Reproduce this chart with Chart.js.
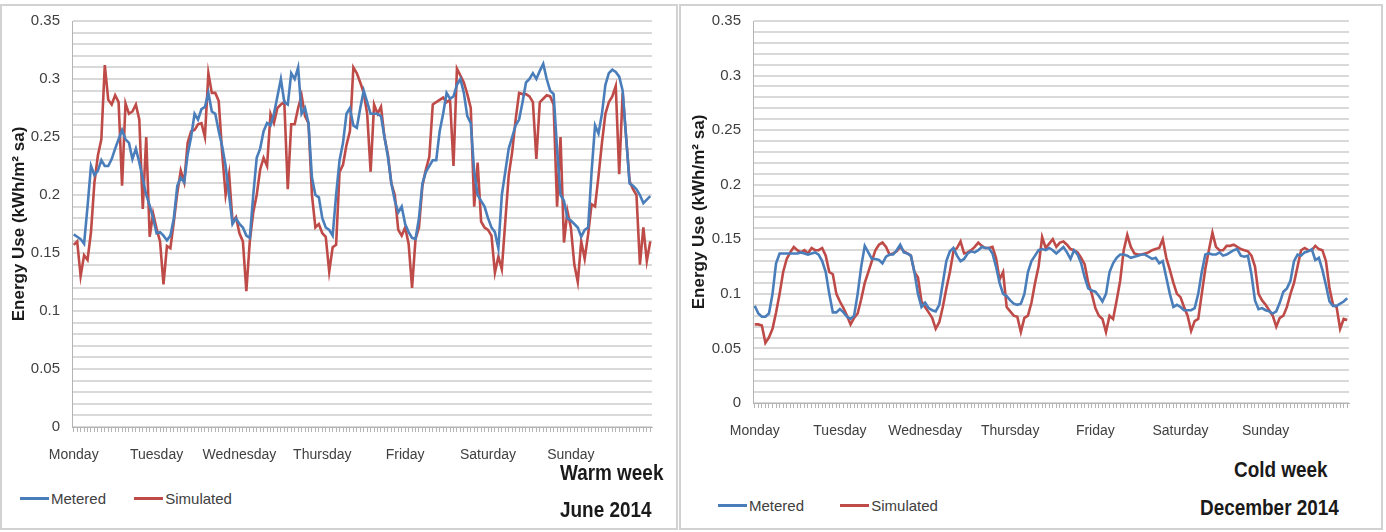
<!DOCTYPE html>
<html lang="en">
<head>
<meta charset="UTF-8" />
<title>Energy use - warm and cold week</title>
<script src="https://cdn.jsdelivr.net/npm/chart.js@4.4.1/dist/chart.umd.min.js"></script>
<style>
  body { margin: 0; width: 1386px; height: 532px; background: #fff; position: relative; overflow: hidden;
         font-family: "Liberation Sans", sans-serif; color: #404040; }
  .panel { position: absolute; top: 4px; height: 526px; border: 2px solid #d2d2d2; box-sizing: border-box; }
  canvas { position: absolute; top: 0; }
  .legend { position: absolute; font-size: 15px; white-space: nowrap; }
  .legend span { display: inline-block; vertical-align: middle; }
  .legend .key { width: 29px; height: 3px; margin-right: 2px; }
  .legend .item { margin-right: 24px; }
  .note { position: absolute; font-size: 22px; font-weight: bold; color: #1a1a1a; white-space: nowrap;
          line-height: 26px; transform: scaleX(0.86); transform-origin: left center; }
</style>
</head>
<body>
  <div class="panel" style="left:0; width:678px;"></div>
  <div class="panel" style="left:679px; width:704px;"></div>

  <canvas id="warm" width="676" height="470" style="left:0"></canvas>
  <canvas id="cold" width="701" height="450" style="left:680px"></canvas>

  <div class="legend" style="left:20px; top:488px;">
    <span class="key" style="background:#4a7ebb"></span><span class="item">Metered</span>
    <span class="key" style="background:#be4b48"></span><span>Simulated</span>
  </div>
  <div class="legend" style="left:718px; top:495px;">
    <span class="key" style="background:#4a7ebb"></span><span class="item" style="margin-right:32px">Metered</span>
    <span class="key" style="background:#be4b48"></span><span>Simulated</span>
  </div>

  <div class="note" style="left:560px; top:460px;">Warm week</div>
  <div class="note" style="left:560px; top:497px;">June 2014</div>
  <div class="note" style="left:1234px; top:457px;">Cold week</div>
  <div class="note" style="left:1200px; top:495px;">December 2014</div>

<script>
  // one reading per hour, Monday 00h .. Sunday 23h
  const days = ["Monday", "Tuesday", "Wednesday", "Thursday", "Friday", "Saturday", "Sunday"];
  const hoursPerDay = 24;

  const warmMetered = [
    0.166, 0.164, 0.162, 0.158, 0.19, 0.225, 0.217, 0.221, 0.23, 0.225, 0.225, 0.231,
    0.24, 0.248, 0.256, 0.248, 0.245, 0.231, 0.24, 0.228, 0.214, 0.2, 0.191, 0.18,
    0.167, 0.168, 0.165, 0.161, 0.165, 0.18, 0.208, 0.215, 0.211, 0.235, 0.25, 0.27,
    0.265, 0.274, 0.276, 0.288, 0.272, 0.27, 0.255, 0.242, 0.225, 0.2, 0.175, 0.18,
    0.175, 0.172, 0.165, 0.163, 0.2, 0.232, 0.24, 0.255, 0.262, 0.26, 0.27, 0.285,
    0.3, 0.28, 0.278, 0.305, 0.3, 0.31, 0.27, 0.275, 0.262, 0.215, 0.2, 0.198,
    0.18, 0.172, 0.17, 0.165, 0.2, 0.23, 0.245, 0.27, 0.275, 0.26, 0.258, 0.275,
    0.29, 0.28, 0.27, 0.27, 0.27, 0.268, 0.25, 0.233, 0.21, 0.195, 0.185, 0.19,
    0.175, 0.168, 0.163, 0.162, 0.18, 0.21, 0.22, 0.225, 0.23, 0.23, 0.255, 0.27,
    0.288, 0.283, 0.285, 0.295, 0.3, 0.288, 0.268, 0.262, 0.22, 0.2, 0.195, 0.19,
    0.18, 0.172, 0.168, 0.154, 0.2, 0.22, 0.24, 0.25, 0.26, 0.265, 0.28, 0.297,
    0.3, 0.305, 0.3, 0.307, 0.313, 0.3, 0.29, 0.287, 0.24, 0.2, 0.195, 0.18,
    0.178, 0.175, 0.172, 0.164, 0.17, 0.172, 0.22, 0.26, 0.253, 0.27, 0.295, 0.305,
    0.308, 0.306, 0.302, 0.29, 0.25, 0.21, 0.208, 0.205, 0.2, 0.193, 0.196, 0.199
  ];
  const warmSimulated = [
    0.157, 0.16, 0.13, 0.148, 0.144, 0.168, 0.211, 0.234, 0.248, 0.312, 0.282, 0.278,
    0.286, 0.28, 0.208, 0.279, 0.27, 0.272, 0.278, 0.265, 0.188, 0.25, 0.164, 0.184,
    0.171, 0.16, 0.123, 0.156, 0.154, 0.177, 0.202, 0.221, 0.211, 0.245, 0.255, 0.256,
    0.261, 0.262, 0.25, 0.305, 0.288, 0.288, 0.281, 0.236, 0.2, 0.218, 0.177, 0.181,
    0.167, 0.16, 0.117, 0.16, 0.185, 0.2, 0.222, 0.232, 0.225, 0.27, 0.262, 0.275,
    0.278, 0.28, 0.205, 0.261, 0.261, 0.275, 0.286, 0.268, 0.262, 0.2, 0.172, 0.175,
    0.167, 0.164, 0.134, 0.155, 0.157, 0.22, 0.226, 0.243, 0.255, 0.31, 0.305, 0.297,
    0.288, 0.27, 0.22, 0.278, 0.27, 0.276, 0.25, 0.235, 0.21, 0.2, 0.17, 0.165,
    0.172, 0.158, 0.12, 0.162, 0.172, 0.208, 0.222, 0.233, 0.278, 0.28, 0.282, 0.284,
    0.28, 0.282, 0.225, 0.309, 0.303, 0.297, 0.287, 0.275, 0.19, 0.228, 0.177, 0.172,
    0.17, 0.165, 0.133, 0.147, 0.136, 0.177, 0.217, 0.237, 0.265, 0.288, 0.287, 0.287,
    0.285, 0.28, 0.231, 0.28, 0.283, 0.286, 0.285, 0.278, 0.19, 0.25, 0.159, 0.186,
    0.172, 0.14, 0.125, 0.16, 0.145, 0.166, 0.192, 0.19, 0.216, 0.245, 0.27, 0.28,
    0.285, 0.294, 0.218, 0.288, 0.25, 0.212, 0.205, 0.2, 0.14, 0.172, 0.143, 0.16
  ];
  const coldMetered = [
    0.089, 0.082, 0.079, 0.079, 0.082, 0.1, 0.128, 0.137, 0.137, 0.137, 0.137, 0.137,
    0.137, 0.138, 0.137, 0.136, 0.137, 0.138, 0.136, 0.13, 0.12, 0.1, 0.083, 0.083,
    0.086, 0.083, 0.079, 0.077, 0.08, 0.1, 0.125, 0.144, 0.138, 0.132, 0.132, 0.131,
    0.128, 0.134, 0.136, 0.136, 0.14, 0.145, 0.138, 0.137, 0.135, 0.12, 0.1, 0.088,
    0.092, 0.087, 0.085, 0.084, 0.09, 0.11, 0.13, 0.139, 0.142, 0.135, 0.13, 0.132,
    0.137, 0.139, 0.138, 0.14, 0.143, 0.142, 0.142, 0.137, 0.125, 0.11, 0.1, 0.098,
    0.094, 0.091, 0.09, 0.091, 0.1, 0.12, 0.13, 0.135, 0.14, 0.141, 0.14, 0.142,
    0.14, 0.137, 0.14, 0.143, 0.138, 0.132, 0.14, 0.136, 0.128, 0.115, 0.105, 0.103,
    0.102, 0.098, 0.093, 0.1, 0.12, 0.128, 0.133, 0.136, 0.136, 0.135, 0.133, 0.134,
    0.135, 0.136, 0.136, 0.134, 0.132, 0.133, 0.128, 0.13, 0.115, 0.1, 0.088, 0.09,
    0.088, 0.085, 0.085, 0.085, 0.087, 0.1, 0.12, 0.136, 0.137, 0.136, 0.136, 0.138,
    0.135, 0.136, 0.138, 0.14, 0.141, 0.135, 0.134, 0.135, 0.118, 0.094, 0.086, 0.087,
    0.085, 0.084, 0.082, 0.084, 0.092, 0.102, 0.105, 0.112, 0.13, 0.136, 0.135, 0.138,
    0.139, 0.141, 0.131, 0.133, 0.122, 0.108, 0.093, 0.089, 0.089, 0.091, 0.093, 0.096
  ];
  const coldSimulated = [
    0.072, 0.072, 0.071, 0.055, 0.06, 0.068, 0.083, 0.1, 0.12, 0.132, 0.138, 0.143,
    0.14, 0.138, 0.14, 0.137, 0.142, 0.14, 0.14, 0.142, 0.135, 0.12, 0.118, 0.1,
    0.093, 0.087, 0.08, 0.072, 0.078, 0.082, 0.095, 0.11, 0.12, 0.13, 0.14, 0.145,
    0.147, 0.143, 0.136, 0.137, 0.139, 0.143, 0.139, 0.137, 0.135, 0.12, 0.115, 0.093,
    0.088, 0.083, 0.078, 0.068, 0.074, 0.088, 0.105, 0.12, 0.139, 0.142, 0.148, 0.137,
    0.138, 0.14, 0.143, 0.147, 0.144, 0.142, 0.142, 0.143, 0.133, 0.113, 0.12, 0.088,
    0.084, 0.08, 0.079, 0.065, 0.078, 0.08, 0.092, 0.11, 0.125, 0.152, 0.142, 0.146,
    0.15, 0.143, 0.147, 0.148, 0.145, 0.141, 0.14, 0.138, 0.133, 0.127, 0.11, 0.1,
    0.087, 0.08, 0.077, 0.065, 0.08, 0.077, 0.094, 0.112, 0.14, 0.154, 0.143, 0.137,
    0.136, 0.136, 0.137, 0.138, 0.14, 0.141, 0.142, 0.15, 0.133, 0.122, 0.11, 0.1,
    0.097, 0.088, 0.08, 0.066, 0.075, 0.077, 0.1, 0.123, 0.14, 0.156, 0.143, 0.14,
    0.14, 0.144, 0.144, 0.145, 0.143, 0.141, 0.14, 0.139, 0.135, 0.125, 0.1, 0.094,
    0.09, 0.085, 0.08, 0.07, 0.078, 0.08, 0.088, 0.1, 0.11, 0.125, 0.14, 0.142,
    0.14, 0.14, 0.144, 0.141, 0.14, 0.13, 0.105, 0.09, 0.088, 0.068, 0.077, 0.076
  ];

  // y axis: grid every 0.01, labels every 0.05
  const yMax = 0.35;
  const yGridStep = 0.01;
  const yLabelEvery = 5;

  const hourLabels = [];
  days.forEach(function (d) {
    for (let h = 0; h < hoursPerDay; h++) hourLabels.push(h === 0 ? d : "");
  });

  const textFont = "'Liberation Sans', sans-serif";

  function drawWeek(id, metered, simulated, box) {
    new Chart(document.getElementById(id), {
      type: "line",
      data: {
        labels: hourLabels,
        datasets: [
          { label: "Metered", data: metered, borderColor: "#4a7ebb", backgroundColor: "#4a7ebb",
            borderWidth: 2.6, pointRadius: 0, tension: 0 },
          { label: "Simulated", data: simulated, borderColor: "#be4b48", backgroundColor: "#be4b48",
            borderWidth: 2.6, pointRadius: 0, tension: 0 }
        ]
      },
      options: {
        responsive: false,
        animation: false,
        layout: { padding: box.padding },
        plugins: { legend: { display: false }, tooltip: { enabled: false } },
        scales: {
          x: {
            offset: true,
            grid: { drawOnChartArea: false, drawTicks: true, tickLength: 5, color: "#b4b4b4" },
            border: { color: "#b4b4b4" },
            ticks: { autoSkip: false, maxRotation: 0, minRotation: 0, padding: box.xPad,
                     color: "#404040", font: { family: textFont, size: 14 } },
            afterFit: function (s) { s.height = box.xHeight; }
          },
          y: {
            min: 0,
            max: yMax,
            border: { color: "#b4b4b4" },
            grid: { color: "#d9d9d9", lineWidth: 2, drawTicks: false },
            ticks: {
              stepSize: yGridStep, autoSkip: false, padding: 12, color: "#404040",
              font: { family: textFont, size: 15 },
              callback: function (v) {
                const c = Math.round(v / yGridStep);
                return c % yLabelEvery === 0 ? String(Math.round(v * 100) / 100) : "";
              }
            },
            title: {
              display: true, text: "Energy Use (kWh/m² sa)", color: "#1a1a1a",
              font: { family: textFont, size: 17, weight: "bold" },
              padding: { top: 9, bottom: 0 }
            },
            afterFit: function (s) { s.width = box.yWidth; }
          }
        }
      }
    });
  }

  drawWeek("warm", warmMetered, warmSimulated, {
    padding: { top: 17, right: 24, bottom: 3, left: 0 }, yWidth: 72, xHeight: 40, xPad: 15
  });
  drawWeek("cold", coldMetered, coldSimulated, {
    padding: { top: 18, right: 32, bottom: 7, left: 0 }, yWidth: 73, xHeight: 40, xPad: 15
  });
</script>
</body>
</html>
